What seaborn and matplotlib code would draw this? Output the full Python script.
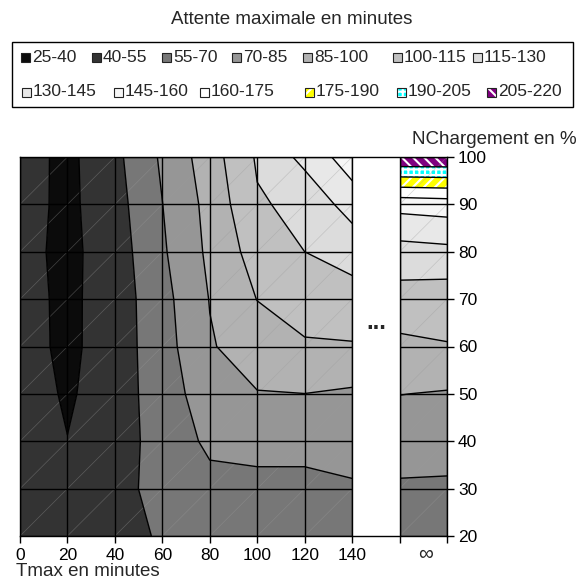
import numpy as np
import matplotlib
matplotlib.use("Agg")
import matplotlib.pyplot as plt
import seaborn as sns
from matplotlib.patches import Rectangle
from matplotlib.collections import LineCollection

# ---------------- data ----------------
# Tmax columns (minutes); 160 = "..." gap, 180 = right edge of the "infinity" column
tmax_positions = [0, 20, 40, 60, 80, 100, 120, 140, 160, 180]
x_tick_labels = ["0", "20", "40", "60", "80", "100", "120", "140", "", ""]
charge_levels = [20, 30, 40, 50, 60, 70, 80, 90, 100]          # NChargement en %
wait_levels = [25, 40, 55, 70, 85, 100, 115, 130, 145, 160, 175, 190, 205, 220]
band_labels = ["25-40", "40-55", "55-70", "70-85", "85-100", "100-115", "115-130",
               "130-145", "145-160", "160-175", "175-190", "190-205", "205-220"]

# maximal waiting time (minutes) per charge level, one value per Tmax column
wait_at_20 = [48.0, 45.0, 45.0, 58.0, 62.0, 62.0, 62.0, 62.0, 63.0, 63.0]
wait_at_30 = [48.0, 42.0, 50.1, 60.0, 65.3, 65.7, 65.7, 68.9, 68.6, 67.8]
wait_at_40 = [48.0, 40.3, 49.2, 60.0, 73.1, 75.0, 75.0, 74.0, 75.0, 76.0]
wait_at_50 = [47.6, 38.1, 47.6, 62.5, 78.0, 84.4, 84.9, 82.8, 85.3, 83.8]
wait_at_60 = [45.7, 36.7, 47.3, 63.7, 83.8, 92.0, 98.5, 98.7, 96.5, 99.2]
wait_at_70 = [45.0, 36.9, 46.8, 65.1, 85.5, 100.3, 106.0, 110.4, 109.0, 107.0]
wait_at_80 = [44.4, 36.4, 47.4, 68.0, 88.0, 106.5, 115.0, 119.6, 124.0, 126.0]
wait_at_90 = [45.4, 36.6, 49.2, 69.8, 89.6, 113.5, 118.5, 136.9, 150.0, 152.0]
wait_at_100 = [45.9, 36.4, 51.2, 72.2, 93.0, 116.7, 134.4, 153.0, 219.0, 219.0]

# ---------------- style ----------------
band_colors = ['#0b0b0b', '#333333', '#777777', '#969696', '#b2b2b2', '#c0c0c0',
               '#dcdcdc', '#e8e8e8', '#f6f6f6', '#ffffff', '#ffff00', '#00ffff', '#800080']
band_hatches = [None] * 10 + ['///', '+++', '\\\\\\']

sns.set_theme(style="white")
plt.rcParams['font.family'] = ['Liberation Sans', 'DejaVu Sans']
plt.rcParams['hatch.color'] = 'white'
plt.rcParams['hatch.linewidth'] = 1.5

W, H = 585, 581
fig = plt.figure(figsize=(W / 100, H / 100), dpi=100)
ax = fig.add_axes([20 / W, 1 - 536 / H, (447 - 20) / W, (536 - 157) / H])

X, Y = np.meshgrid(np.array(tmax_positions, float), np.array(charge_levels, float))
Z = np.array([wait_at_20, wait_at_30, wait_at_40, wait_at_50, wait_at_60,
              wait_at_70, wait_at_80, wait_at_90, wait_at_100])

ax.contourf(X, Y, Z, levels=wait_levels, colors=band_colors, hatches=band_hatches,
            zorder=1, antialiased=True)

# faint triangulation diagonals (Excel surface artefacts)
segs = []
for i in range(len(tmax_positions) - 1):
    if tmax_positions[i] == 140:
        continue
    for j in range(len(charge_levels) - 1):
        segs.append([(tmax_positions[i], charge_levels[j]),
                     (tmax_positions[i + 1], charge_levels[j + 1])])
ax.add_collection(LineCollection(segs, colors='#9a9a9a', linewidths=0.5, alpha=0.4, zorder=1.5))

ax.contour(X, Y, Z, levels=wait_levels[1:-1], colors='black', linewidths=1.0, zorder=2)

ax.set_xlim(tmax_positions[0], tmax_positions[-1])
ax.set_ylim(charge_levels[0], charge_levels[-1])
ax.set_xticks(tmax_positions)
ax.set_xticklabels(x_tick_labels)
ax.set_yticks(charge_levels)
ax.yaxis.tick_right()
ax.set_axisbelow(False)
ax.grid(True, color='black', linewidth=1.0)
ax.tick_params(axis='x', bottom=True, top=False, direction='out', length=5, width=1,
               color='black', labelsize=12.5, pad=4, labelcolor='black')
ax.tick_params(axis='y', right=True, left=False, direction='out', length=5, width=1,
               color='black', labelsize=12.5, pad=3, labelcolor='black')
for s in ax.spines.values():
    s.set_color('black')
    s.set_linewidth(1.0)

# white gap box between 140 and infinity
ax.add_patch(Rectangle((140, charge_levels[0]), 20, charge_levels[-1] - charge_levels[0],
                       facecolor='white', edgecolor='black', linewidth=1.0, zorder=3))
ax.text(150, 65, "...", ha='center', va='center', fontsize=17, fontweight='bold', zorder=4)
ax.annotate("\u221e", xy=(171, charge_levels[0]), xycoords='data', xytext=(0, -13),
            textcoords='offset points', ha='center', va='center', fontsize=15,
            annotation_clip=False)

# ---------------- texts ----------------
def fx(px):
    return px / W

def fy(py):
    return 1 - py / H

fig.text(fx(292), fy(20), "Attente maximale en minutes", ha='center', va='center', fontsize=13.5)
fig.text(fx(577), fy(139), "NChargement en %", ha='right', va='center', fontsize=13.5)
fig.text(fx(16), fy(571), "Tmax en minutes", ha='left', va='center', fontsize=13.5)

# ---------------- legend ----------------
fig.add_artist(Rectangle((fx(12), fy(107)), (573 - 12) / W, (107 - 42) / H,
                         transform=fig.transFigure, facecolor='white', edgecolor='black',
                         linewidth=1.0))
row1_x = [21, 92, 162, 232, 303, 393, 473]
row2_x = [22, 114, 200, 305, 397, 487]
slots = [(x, 57) for x in row1_x] + [(x, 92) for x in row2_x]
sw = 9
for k, (sx, sy) in enumerate(slots):
    fig.add_artist(Rectangle((fx(sx), fy(sy + sw / 2)), sw / W, sw / H, transform=fig.transFigure,
                             facecolor=band_colors[k], edgecolor='white', linewidth=0,
                             hatch=band_hatches[k]))
    fig.add_artist(Rectangle((fx(sx), fy(sy + sw / 2)), sw / W, sw / H, transform=fig.transFigure,
                             facecolor='none', edgecolor='#222222', linewidth=0.8))
    fig.text(fx(sx + sw + 2), fy(sy), band_labels[k], ha='left', va='center', fontsize=12.5)

fig.savefig("out.png", dpi=100)
